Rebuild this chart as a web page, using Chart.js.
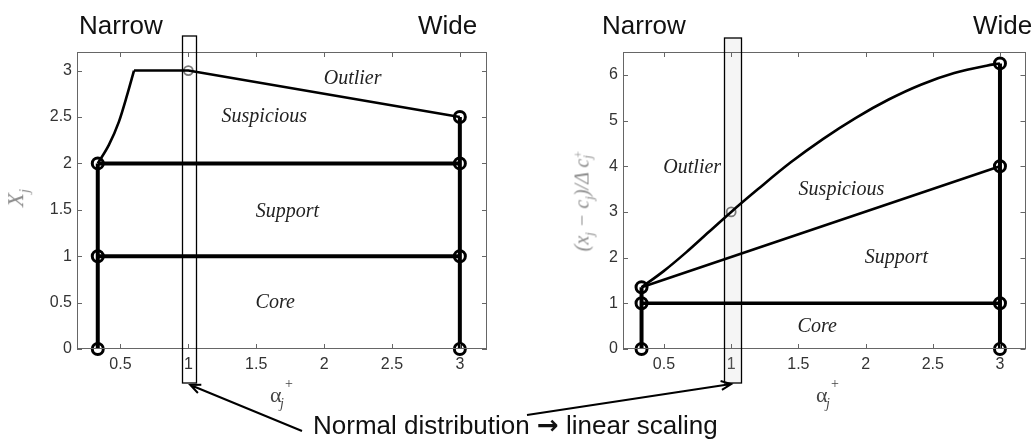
<!DOCTYPE html>
<html>
<head>
<meta charset="utf-8">
<script src="https://cdn.jsdelivr.net/npm/chart.js@4.4.1/dist/chart.umd.min.js"></script>
<style>
  body { margin: 0; background: #fff; }
  #wrap { position: relative; width: 1034px; height: 441px; overflow: hidden; }
  canvas { position: absolute; top: 0; }
  .txt { position: absolute; font-family: "Liberation Sans", Arial, sans-serif; font-size: 25px; line-height: 25px; color: #111; white-space: nowrap; }
  .arr { font-family: "DejaVu Sans", sans-serif; font-weight: bold; }
  .math { position: absolute; font-family: "Liberation Serif", "Times New Roman", serif; font-style: italic; color: #444; white-space: nowrap; }
  .ylab { position: absolute; font-family: "Liberation Serif", "Times New Roman", serif; font-style: italic; color: #8a8a8a; white-space: nowrap; transform: translate(-50%, -50%) rotate(-90deg); }
  .ylab sub { font-size: 0.65em; }
  .stack { display: inline-block; vertical-align: middle; line-height: 0.8; font-size: 0.6em; text-align: left; }
  .stack span { display: block; }
</style>
</head>
<body>
<div id="wrap">
  <canvas id="leftChart" width="517" height="441" style="left:0"></canvas>
  <canvas id="rightChart" width="517" height="441" style="left:517px"></canvas>
  <canvas id="overlay" width="1034" height="441" style="left:0;pointer-events:none"></canvas>

  <div class="txt" style="left:79px;top:13px;font-size:26px">Narrow</div>
  <div class="txt" style="left:418px;top:13px;font-size:26px">Wide</div>
  <div class="txt" style="left:602px;top:13px;font-size:26px">Narrow</div>
  <div class="txt" style="left:973px;top:13px;font-size:26px">Wide</div>
  <div class="txt" style="left:313px;top:413px;font-size:26px">Normal distribution <span class="arr">→</span> linear scaling</div>

  <div class="math" style="left:270px;top:382px;font-size:22px;font-style:normal">α</div>
  <div class="math" style="left:285px;top:376px;font-size:14px;font-style:normal">+</div>
  <div class="math" style="left:280px;top:396px;font-size:14px">j</div>
  <div class="math" style="left:816px;top:382px;font-size:22px;font-style:normal">α</div>
  <div class="math" style="left:831px;top:376px;font-size:14px;font-style:normal">+</div>
  <div class="math" style="left:826px;top:396px;font-size:14px">j</div>

  <div class="ylab" style="left:18px;top:198px;font-size:23px">X<sub>j</sub></div>
  <div class="ylab" style="left:584px;top:201px;font-size:20px">(x<sub>j</sub> − c<sub>j</sub>)/Δ c<span class="stack"><span>+</span><span>j</span></span></div>
</div>

<script>
// ---- left panel: X_j vs alpha_j+ ----
const leftXTicks = [0.5, 1, 1.5, 2, 2.5, 3];
const leftYTicks = [0, 0.5, 1, 1.5, 2, 2.5, 3];
const leftNarrowEdgeX = [0.333, 0.333];
const leftNarrowEdgeY = [0, 2];
const leftWideEdgeX = [3, 3];
const leftWideEdgeY = [0, 2.5];
const leftBandX = [0.333, 3];
const leftCoreTopY = [1, 1];
const leftSupportTopY = [2, 2];
const leftRiseX = [0.333, 0.415, 0.489, 0.55, 0.6];
const leftRiseY = [2, 2.2, 2.45, 2.74, 3];
const leftCapX = [0.6, 1, 3];
const leftCapY = [3, 3, 2.5];
const leftNodeX = [0.333, 0.333, 0.333, 3, 3, 3, 3];
const leftNodeY = [0, 1, 2, 0, 1, 2, 2.5];
const leftProbeX = [1];
const leftProbeY = [3];
const leftRegions = ['Outlier', 'Suspicious', 'Support', 'Core'];
const leftRegionX = [2.21, 1.56, 1.73, 1.64];
const leftRegionY = [2.91, 2.5, 1.48, 0.5];

// ---- right panel: (x_j - c_j)/dc_j+ vs alpha_j+ ----
const rightXTicks = [0.5, 1, 1.5, 2, 2.5, 3];
const rightYTicks = [0, 1, 2, 3, 4, 5, 6];
const rightNarrowEdgeX = [0.333, 0.333];
const rightNarrowEdgeY = [0, 1.35];
const rightWideEdgeX = [3, 3];
const rightWideEdgeY = [0, 6.25];
const rightCoreX = [0.333, 3];
const rightCoreY = [1, 1];
const rightSupportX = [0.333, 3];
const rightSupportY = [1.35, 4];
const rightOutlierX = [0.333, 0.5, 0.667, 0.833, 1, 1.2, 1.441, 1.685, 1.928, 2.172, 2.416, 2.66, 2.9, 3];
const rightOutlierY = [1.35, 1.71, 2.12, 2.56, 3, 3.5, 4.08, 4.6, 5.06, 5.46, 5.79, 6.04, 6.2, 6.25];
const rightNodeX = [0.333, 0.333, 0.333, 3, 3, 3, 3];
const rightNodeY = [0, 1, 1.35, 0, 1, 4, 6.25];
const rightProbeX = [1];
const rightProbeY = [3];
const rightRegions = ['Outlier', 'Suspicious', 'Support', 'Core'];
const rightRegionX = [0.71, 1.82, 2.23, 1.64];
const rightRegionY = [3.96, 3.48, 1.99, 0.48];

const xy = (xs, ys) => xs.map((x, i) => ({ x: x, y: ys[i] }));

function line(xs, ys, w, extra) {
  return Object.assign({
    data: xy(xs, ys), borderColor: '#000', borderWidth: w,
    pointRadius: 0, tension: 0, fill: false
  }, extra || {});
}

function nodes(xs, ys) {
  return {
    data: xy(xs, ys), showLine: false, pointRadius: 5.5, clip: false,
    pointBorderWidth: 3, pointBorderColor: '#000', pointBackgroundColor: 'rgba(0,0,0,0)'
  };
}

function probe(xs, ys) {
  return {
    data: xy(xs, ys), showLine: false, pointRadius: 4.5, clip: false,
    pointBorderWidth: 1.8, pointBorderColor: '#7a7a7a', pointBackgroundColor: 'rgba(255,255,255,0.75)'
  };
}

// frame with inward ticks, region names and the highlight box around alpha = 1
function panelPlugin(p) {
  return {
    id: 'panel',
    beforeDatasetsDraw(chart) {
      const { ctx, scales: { x } } = chart;
      const x0 = Math.round(x.getPixelForValue(p.boxX[0])) + 0.5;
      const x1 = Math.round(x.getPixelForValue(p.boxX[1])) + 0.5;
      ctx.save();
      ctx.fillStyle = p.boxFill;
      ctx.fillRect(x0, p.boxTop, x1 - x0, p.boxBottom - p.boxTop);
      ctx.restore();
    },
    afterDatasetsDraw(chart) {
      const { ctx, chartArea: a, scales: { x, y } } = chart;
      ctx.save();
      ctx.strokeStyle = '#666';
      ctx.lineWidth = 1;
      ctx.strokeRect(Math.round(a.left) + 0.5, Math.round(a.top) + 0.5,
        Math.round(a.width) - 1, Math.round(a.height) - 1);
      ctx.beginPath();
      x.ticks.forEach(t => {
        const px = Math.round(x.getPixelForValue(t.value)) + 0.5;
        ctx.moveTo(px, a.bottom); ctx.lineTo(px, a.bottom - 5);
        ctx.moveTo(px, a.top); ctx.lineTo(px, a.top + 5);
      });
      y.ticks.forEach(t => {
        const py = Math.round(y.getPixelForValue(t.value)) + 0.5;
        ctx.moveTo(a.left, py); ctx.lineTo(a.left + 5, py);
        ctx.moveTo(a.right, py); ctx.lineTo(a.right - 5, py);
      });
      ctx.stroke();

      ctx.fillStyle = '#222';
      ctx.font = 'italic 20px "Liberation Serif", "Times New Roman", serif';
      ctx.textAlign = 'center';
      ctx.textBaseline = 'middle';
      p.regions.forEach((name, i) => {
        ctx.fillText(name, x.getPixelForValue(p.regionX[i]), y.getPixelForValue(p.regionY[i]));
      });

      const x0 = Math.round(x.getPixelForValue(p.boxX[0])) + 0.5;
      const x1 = Math.round(x.getPixelForValue(p.boxX[1])) + 0.5;
      ctx.strokeStyle = '#000';
      ctx.lineWidth = 1.3;
      ctx.strokeRect(x0, p.boxTop, x1 - x0, p.boxBottom - p.boxTop);
      ctx.restore();
    }
  };
}

function makeChart(id, cfg) {
  const tickFont = { family: '"Liberation Sans", Arial, sans-serif', size: 16 };
  const label = v => String(v);
  return new Chart(document.getElementById(id), {
    type: 'line',
    data: { datasets: cfg.datasets },
    options: {
      responsive: false,
      animation: false,
      events: [],
      layout: { padding: { top: 52, right: cfg.padRight, bottom: 0, left: 0 } },
      plugins: { legend: { display: false }, tooltip: { enabled: false } },
      scales: {
        x: {
          type: 'linear', min: cfg.xMin, max: cfg.xMax,
          grid: { display: false, drawTicks: false },
          border: { display: false },
          afterBuildTicks: s => { s.ticks = cfg.xTicks.map(v => ({ value: v })); },
          afterFit: s => { s.height = 92; },
          ticks: { font: tickFont, color: '#333', padding: 6, maxRotation: 0, autoSkip: false, callback: label }
        },
        y: {
          type: 'linear', min: 0, max: cfg.yMax,
          grid: { display: false, drawTicks: false },
          border: { display: false },
          afterBuildTicks: s => { s.ticks = cfg.yTicks.map(v => ({ value: v })); },
          afterFit: s => { s.width = cfg.yWidth; },
          ticks: { font: tickFont, color: '#333', padding: 5, autoSkip: false, callback: label }
        }
      }
    },
    plugins: [panelPlugin(cfg.panel)]
  });
}

const leftChart = makeChart('leftChart', {
  xMin: 0.18, xMax: 3.2, yMax: 3.2, xTicks: leftXTicks, yTicks: leftYTicks,
  yWidth: 77, padRight: 30,
  datasets: [
    line(leftNarrowEdgeX, leftNarrowEdgeY, 4),
    line(leftWideEdgeX, leftWideEdgeY, 4),
    line(leftBandX, leftCoreTopY, 4),
    line(leftBandX, leftSupportTopY, 4),
    line(leftRiseX, leftRiseY, 2.6, { cubicInterpolationMode: 'monotone' }),
    line(leftCapX, leftCapY, 2.6),
    nodes(leftNodeX, leftNodeY),
    probe(leftProbeX, leftProbeY)
  ],
  panel: {
    boxX: [0.955, 1.054], boxTop: 36, boxBottom: 383, boxFill: 'rgba(255,255,255,0)',
    regions: leftRegions, regionX: leftRegionX, regionY: leftRegionY
  }
});

const rightChart = makeChart('rightChart', {
  xMin: 0.195, xMax: 3.19, yMax: 6.5, xTicks: rightXTicks, yTicks: rightYTicks,
  yWidth: 106, padRight: 1,
  datasets: [
    line(rightNarrowEdgeX, rightNarrowEdgeY, 4),
    line(rightWideEdgeX, rightWideEdgeY, 4),
    line(rightCoreX, rightCoreY, 3.6),
    line(rightSupportX, rightSupportY, 2.6),
    line(rightOutlierX, rightOutlierY, 2.6, { cubicInterpolationMode: 'monotone' }),
    nodes(rightNodeX, rightNodeY),
    probe(rightProbeX, rightProbeY)
  ],
  panel: {
    boxX: [0.95, 1.073], boxTop: 38, boxBottom: 383, boxFill: 'rgba(200,200,200,0.18)',
    regions: rightRegions, regionX: rightRegionX, regionY: rightRegionY
  }
});

// arrows from the caption to the two highlight boxes
const ov = document.getElementById('overlay').getContext('2d');
function arrow(x0, y0, x1, y1) {
  const ang = Math.atan2(y1 - y0, x1 - x0);
  ov.strokeStyle = '#000';
  ov.lineWidth = 2;
  ov.beginPath();
  ov.moveTo(x0, y0); ov.lineTo(x1, y1);
  ov.moveTo(x1 - 11 * Math.cos(ang - 0.42), y1 - 11 * Math.sin(ang - 0.42));
  ov.lineTo(x1, y1);
  ov.lineTo(x1 - 11 * Math.cos(ang + 0.42), y1 - 11 * Math.sin(ang + 0.42));
  ov.stroke();
}
arrow(302, 431, leftChart.scales.x.getPixelForValue(1) + 2, 385);
arrow(527, 415, 517 + rightChart.scales.x.getPixelForValue(1), 384);
</script>
</body>
</html>
